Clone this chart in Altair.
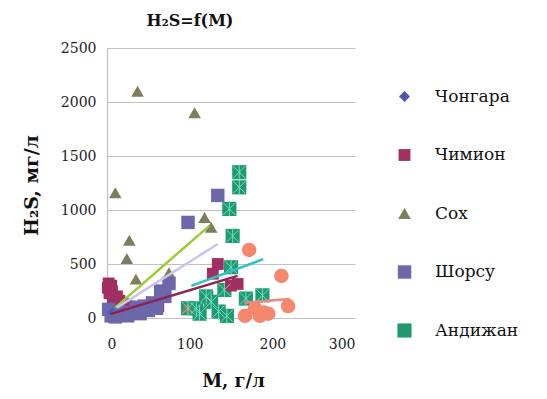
import altair as alt
import pandas as pd

series_names = ["Чонгара", "Чимион", "Сох", "Шорсу", "Андижан"]
series_colors = ["#4E58A8", "#A02F62", "#7E7D5E", "#6C68AA", "#1F9A6C"]
series_shapes = ["diamond", "square", "triangle-up", "square", "square"]
series_sizes = [120, 200, 210, 420, 420]

chongara_x = [2, 4, 6, 3]
chongara_y = [50, 90, 70, 30]

chimion_x = [1, 3, 6, 9, 12, 15, 19, 24, 7, 11, 128, 134, 158, 150, 62, 2, 5]
chimion_y = [280, 230, 250, 180, 200, 160, 130, 110, 150, 100, 410, 500, 315, 300, 110, 320, 300]

sokh_x = [10, 37, 106, 27, 24, 35, 75, 70, 118, 126, 97, 20]
sokh_y = [1160, 2100, 1900, 720, 550, 360, 420, 210, 930, 840, 100, 150]

shorsu_x = [98, 134, 5, 10, 15, 20, 25, 30, 40, 50, 55, 60, 70, 75, 65, 45, 35, 2, 8]
shorsu_y = [885, 1135, 20, 10, 60, 30, 20, 50, 40, 70, 140, 90, 200, 320, 250, 110, 100, 80, 40]

andijan_x = [98, 108, 120, 126, 142, 145, 150, 152, 148, 160, 160, 168, 188, 135, 112]
andijan_y = [90, 90, 200, 150, 260, 20, 470, 760, 1010, 1210, 1350, 180, 210, 60, 40]

other_x = [172, 167, 179, 185, 195, 211, 219, 190]
other_y = [630, 20, 90, 20, 40, 390, 110, 50]

trend_x0 = [1, 4, 10, 12, 102, 166]
trend_y0 = [40, 37, 96, 96, 297, 142]
trend_x1 = [8, 158, 124, 134, 189, 221]
trend_y1 = [90, 390, 855, 685, 545, 176]
trend_colors = ["#3A5FD0", "#8E2456", "#9ACD32", "#C9C6EE", "#2BC3C6", "#E98A7E"]

x_ticks = [0, 100, 200, 300]
y_ticks = [0, 500, 1000, 1500, 2000, 2500]

rows = []
for name, xs, ys in zip(series_names,
                        [chongara_x, chimion_x, sokh_x, shorsu_x, andijan_x],
                        [chongara_y, chimion_y, sokh_y, shorsu_y, andijan_y]):
    for xv, yv in zip(xs, ys):
        rows.append({"M": xv, "H2S": yv, "series": name})
pts = pd.DataFrame(rows)
other = pd.DataFrame({"M": other_x, "H2S": other_y})
andijan = pd.DataFrame({"M": andijan_x, "H2S": andijan_y})
trend = pd.DataFrame({"x0": trend_x0, "y0": trend_y0, "x1": trend_x1,
                      "y1": trend_y1, "col": trend_colors})

FONT = "DejaVu Serif"

xscale = alt.Scale(domain=[0, 300], nice=False, zero=False)
yscale = alt.Scale(domain=[0, 2500], nice=False)

xaxis = alt.Axis(values=x_ticks, grid=False, domain=False, ticks=False, format="d",
                 labelFont=FONT, labelFontSize=14, labelColor="#222222",
                 labelPadding=19, title="М, г/л", titleFont=FONT,
                 titleFontSize=18, titleFontWeight="bold", titleColor="#111111",
                 titleX=126, titleY=54, titleAlign="center")
yaxis = alt.Axis(values=y_ticks, grid=True, gridColor="#C0C0C0", gridWidth=1.2,
                 domain=True, domainColor="#C0C0C0", domainWidth=1.2, ticks=False,
                 format="d",
                 labelFont=FONT, labelFontSize=14, labelColor="#222222",
                 labelPadding=11, title="H₂S, мг/л", titleFont=FONT,
                 titleFontSize=19, titleFontWeight="bold", titleColor="#111111",
                 titleX=-76, titleY=137, titleAlign="center", titleBaseline="middle",
                 titleAngle=-90)

base_x = alt.X("M:Q", scale=xscale, axis=xaxis)
base_y = alt.Y("H2S:Q", scale=yscale, axis=yaxis)

points = alt.Chart(pts).mark_point(filled=True, opacity=1, strokeWidth=0).encode(
    x=base_x,
    y=base_y,
    color=alt.Color("series:N", sort=series_names,
                    scale=alt.Scale(domain=series_names, range=series_colors),
                    legend=alt.Legend(title=None, orient="none", legendX=289,
                                      legendY=40, labelFont=FONT, labelFontSize=17,
                                      labelColor="#111111", rowPadding=40.5,
                                      labelOffset=22, symbolStrokeWidth=0,
                                      symbolOpacity=1)),
    shape=alt.Shape("series:N", sort=series_names,
                    scale=alt.Scale(domain=series_names, range=series_shapes)),
    size=alt.Size("series:N", sort=series_names,
                  scale=alt.Scale(domain=series_names, range=series_sizes)),
    order=alt.Order("series:N"),
)

crosses = alt.Chart(andijan).mark_point(
    shape="M-0.7,-0.7L0.7,0.7M-0.7,0.7L0.7,-0.7M0,-0.95L0,0.95",
    filled=False, stroke="#7FE3D6", strokeWidth=1, size=300, opacity=0.9
).encode(x="M:Q", y="H2S:Q")

others = alt.Chart(other).mark_point(filled=True, opacity=1, shape="circle",
                                     size=210, color="#F5876C").encode(
    x="M:Q", y="H2S:Q")

lines = alt.Chart(trend).mark_rule(strokeWidth=2.5).encode(
    x="x0:Q", x2="x1", y="y0:Q", y2="y1",
    stroke=alt.Stroke("col:N", scale=None),
)

chart = alt.layer(points, crosses, others, lines).properties(
    width=248, height=270,
    title=alt.TitleParams("H₂S=f(M)", font=FONT, fontSize=16, fontWeight="bold",
                          color="#111111", anchor="middle", dx=-41, offset=12),
    autosize=alt.AutoSizeParams(type="none"),
    padding={"left": 99, "top": 40, "right": 184, "bottom": 73},
).configure_view(stroke=None)

chart.save("out.html", embed_options={"renderer": "svg", "actions": False})
